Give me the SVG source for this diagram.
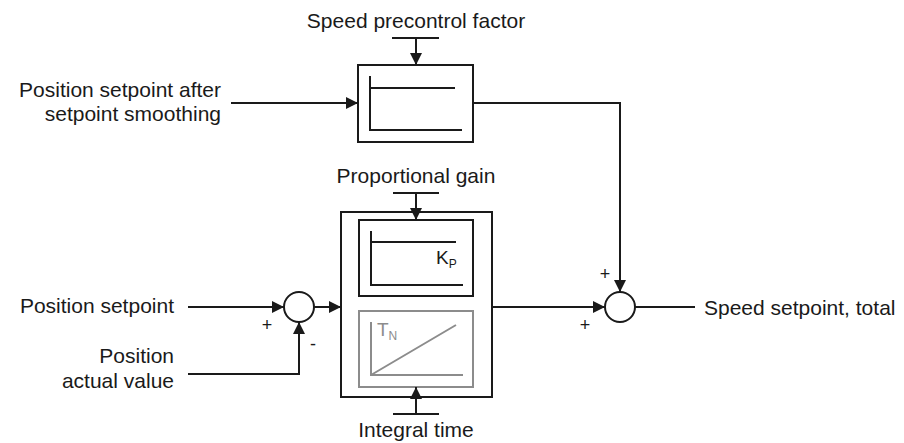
<svg xmlns="http://www.w3.org/2000/svg" width="904" height="443" viewBox="0 0 904 443">
<style>
text{font-family:"Liberation Sans",Arial,sans-serif;fill:#1a1a1a}
.lbl{font-size:21px}
.sgn{font-size:18px}
.ln{stroke:#1a1a1a;stroke-width:2;fill:none}
.box{stroke:#1a1a1a;stroke-width:2;fill:#fff}
.gray{stroke:#8c8c8c;stroke-width:2;fill:none}
.arr{stroke:#1a1a1a;stroke-width:2;fill:none;marker-end:url(#ah)}
</style>
<defs>
<marker id="ah" markerUnits="userSpaceOnUse" markerWidth="12" markerHeight="12" viewBox="0 0 12 12" refX="12" refY="6" orient="auto">
<path d="M0,0 L12,6 L0,12 Z" fill="#1a1a1a"/>
</marker>
</defs>
<g id="precontrol">
<rect class="box" x="358" y="65" width="115" height="77"/>
<path class="ln" d="M370,76 V130 H462 M370,88 H455"/>
</g>
<g id="controller">
<rect class="box" x="341" y="212" width="151" height="185"/>
<rect class="box" x="359" y="220" width="114" height="76"/>
<path class="ln" d="M371,231 V285 H463 M371,242 H456"/>
<text x="436" y="264" style="font-size:19px">K<tspan dy="4" style="font-size:12px">P</tspan></text>
<rect class="gray" x="359" y="311" width="114" height="76"/>
<path class="gray" d="M371,322 V375 H463 M371,375 L456,325"/>
<text x="377" y="336" style="font-size:19px;fill:#8c8c8c">T<tspan dy="4" style="font-size:12px;fill:#8c8c8c">N</tspan></text>
</g>
<g id="sum1">
<circle class="box" cx="299" cy="307" r="15"/>
<text class="sgn" x="267" y="331" text-anchor="middle">+</text>
<text class="sgn" x="313" y="350" text-anchor="middle">-</text>
</g>
<g id="sum2">
<circle class="box" cx="620" cy="307" r="15"/>
<text class="sgn" x="605" y="280" text-anchor="middle">+</text>
<text class="sgn" x="585" y="331" text-anchor="middle">+</text>
</g>
<g id="connectors">
<path class="arr" d="M231,103 H358"/>
<path class="ln" d="M392,38 H439"/>
<path class="arr" d="M416,38 V65"/>
<path class="arr" d="M473,103 H620 V292"/>
<path class="arr" d="M188,307 H284"/>
<path class="arr" d="M188,374 H299 V322"/>
<path class="arr" d="M314,307 H341"/>
<path class="ln" d="M393,193 H439"/>
<path class="arr" d="M416,193 V220"/>
<path class="ln" d="M393,414 H439"/>
<path class="arr" d="M416,414 V387"/>
<path class="arr" d="M492,307 H605"/>
<path class="ln" d="M635,307 H695"/>
</g>
<g id="labels">
<text class="lbl" x="416" y="28" text-anchor="middle">Speed precontrol factor</text>
<text class="lbl" x="221" y="97" text-anchor="end">Position setpoint after</text>
<text class="lbl" x="221" y="121" text-anchor="end">setpoint smoothing</text>
<text class="lbl" x="416" y="183" text-anchor="middle">Proportional gain</text>
<text class="lbl" x="416" y="437" text-anchor="middle">Integral time</text>
<text class="lbl" x="174" y="313" text-anchor="end">Position setpoint</text>
<text class="lbl" x="174" y="363" text-anchor="end">Position</text>
<text class="lbl" x="174" y="388" text-anchor="end">actual value</text>
<text class="lbl" x="704" y="315">Speed setpoint, total</text>
</g>
</svg>
